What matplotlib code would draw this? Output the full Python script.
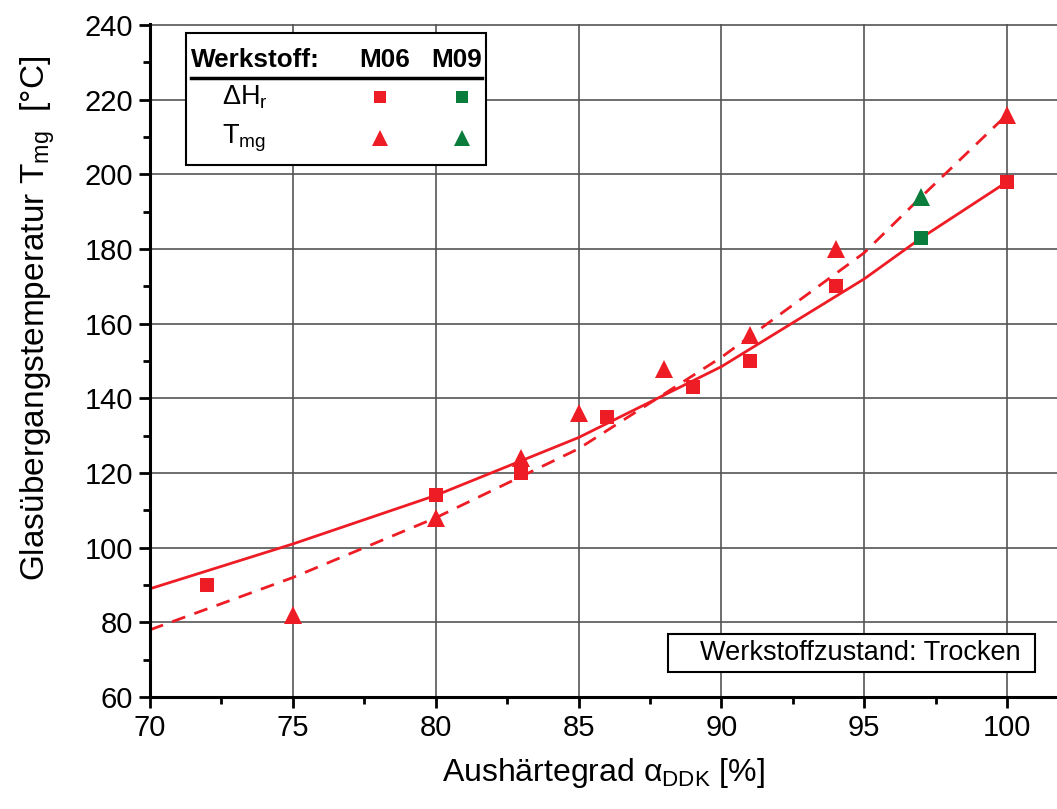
import matplotlib.pyplot as plt
from matplotlib.patches import Rectangle
from matplotlib.ticker import MultipleLocator

plt.rcParams.update({
    'font.family': 'Liberation Sans',
    'mathtext.fontset': 'custom',
    'mathtext.rm': 'Liberation Sans',
    'mathtext.it': 'Liberation Sans:italic',
    'mathtext.bf': 'Liberation Sans:bold',
})

RED = '#ee1c24'
GREEN = '#0a7d3c'

# Messwerte M06
m06_dh_x = [72, 80, 83, 86, 89, 91, 94, 100]
m06_dh_y = [90, 114, 120, 135, 143, 150, 170, 198]
m06_tmg_x = [75, 80, 83, 85, 88, 91, 94, 100]
m06_tmg_y = [82, 108, 124, 136, 148, 157, 180, 216]

# Messwerte M09
m09_dh_x = [97]
m09_dh_y = [183]
m09_tmg_x = [97]
m09_tmg_y = [194]

# Ausgleichskurven
fit_x = [70, 75, 80, 85, 90, 95, 97, 100]
fit_dh_y = [89, 101, 114, 129.5, 148.5, 172, 183, 198]
fit_tmg_y = [78, 92, 108, 126.5, 151, 179, 194, 216]

fig = plt.figure(figsize=(10.57, 8.09), dpi=100)
ax = fig.add_axes([150/1057, 1 - 697/809, 907/1057, 673/809])

ax.plot(fit_x, fit_dh_y, '-', color=RED, lw=2, zorder=3)
ax.plot(fit_x, fit_tmg_y, '--', color=RED, lw=2, dashes=(5, 3.5), zorder=3)

ax.plot(m06_dh_x, m06_dh_y, 's', color=RED, ms=10.5, mew=0, zorder=4)
ax.plot(m06_tmg_x, m06_tmg_y, '^', color=RED, ms=13, mew=0, zorder=4)
ax.plot(m09_dh_x, m09_dh_y, 's', color=GREEN, ms=10.5, mew=0, zorder=4)
ax.plot(m09_tmg_x, m09_tmg_y, '^', color=GREEN, ms=13, mew=0, zorder=4)

ax.set_xlim(70, 101.75)
ax.set_ylim(60, 240.3)
ax.xaxis.set_major_locator(MultipleLocator(5))
ax.xaxis.set_minor_locator(MultipleLocator(2.5))
ax.yaxis.set_major_locator(MultipleLocator(20))
ax.yaxis.set_minor_locator(MultipleLocator(10))
ax.grid(True, which='major', color='#555555', lw=1.2, zorder=1)

for s in ['top', 'right']:
    ax.spines[s].set_visible(False)
for s in ['left', 'bottom']:
    ax.spines[s].set_linewidth(2.2)
    ax.spines[s].set_zorder(5)

ax.tick_params(which='major', direction='out', length=8, width=2, labelsize=21, pad=4)
ax.tick_params(which='minor', direction='out', length=5, width=2)

ax.set_xlabel('Aushärtegrad α$_{\\mathrm{DDK}}$ [%]', fontsize=23, labelpad=10)
ax.set_ylabel(r'Glasübergangstemperatur T$_{\mathrm{mg}}$  [°C]', fontsize=24)
ax.yaxis.set_label_coords(-0.103, 0.563)

# Legende als Tabelle
ax.add_patch(Rectangle((0.0397, 0.7905), 0.3303, 0.1961, transform=ax.transAxes,
                       facecolor='white', edgecolor='black', lw=1.5, zorder=6))
ax.text(0.0452, 0.9465, 'Werkstoff:', transform=ax.transAxes, fontsize=18.8,
        fontweight='bold', va='center', ha='left', zorder=7)
ax.text(0.259, 0.9465, 'M06', transform=ax.transAxes, fontsize=18.8,
        fontweight='bold', va='center', ha='center', zorder=7)
ax.text(0.338, 0.9465, 'M09', transform=ax.transAxes, fontsize=18.8,
        fontweight='bold', va='center', ha='center', zorder=7)
ax.plot([0.0452, 0.366], [0.9198, 0.9198], color='black', lw=2.5,
        transform=ax.transAxes, zorder=7)
ax.text(0.0794, 0.8915, r'$\Delta$H$_{\mathrm{r}}$', transform=ax.transAxes,
        fontsize=19.5, va='center', ha='left', zorder=7)
ax.text(0.0794, 0.8306, r'T$_{\mathrm{mg}}$', transform=ax.transAxes,
        fontsize=19.5, va='center', ha='left', zorder=7)
ax.plot([0.2536], [0.8915], 's', color=RED, ms=9, mew=0, transform=ax.transAxes, zorder=7)
ax.plot([0.344], [0.8915], 's', color=GREEN, ms=9, mew=0, transform=ax.transAxes, zorder=7)
ax.plot([0.2536], [0.8306], '^', color=RED, ms=12, mew=0, transform=ax.transAxes, zorder=7)
ax.plot([0.344], [0.8306], '^', color=GREEN, ms=12, mew=0, transform=ax.transAxes, zorder=7)

# Werkstoffzustand
ax.add_patch(Rectangle((0.5711, 0.0371), 0.4046, 0.0565, transform=ax.transAxes,
                       facecolor='white', edgecolor='black', lw=1.5, zorder=6))
ax.text(0.6064, 0.0654, 'Werkstoffzustand: Trocken', transform=ax.transAxes,
        fontsize=19.5, va='center', ha='left', zorder=7)

fig.savefig('out.png', dpi=100)
